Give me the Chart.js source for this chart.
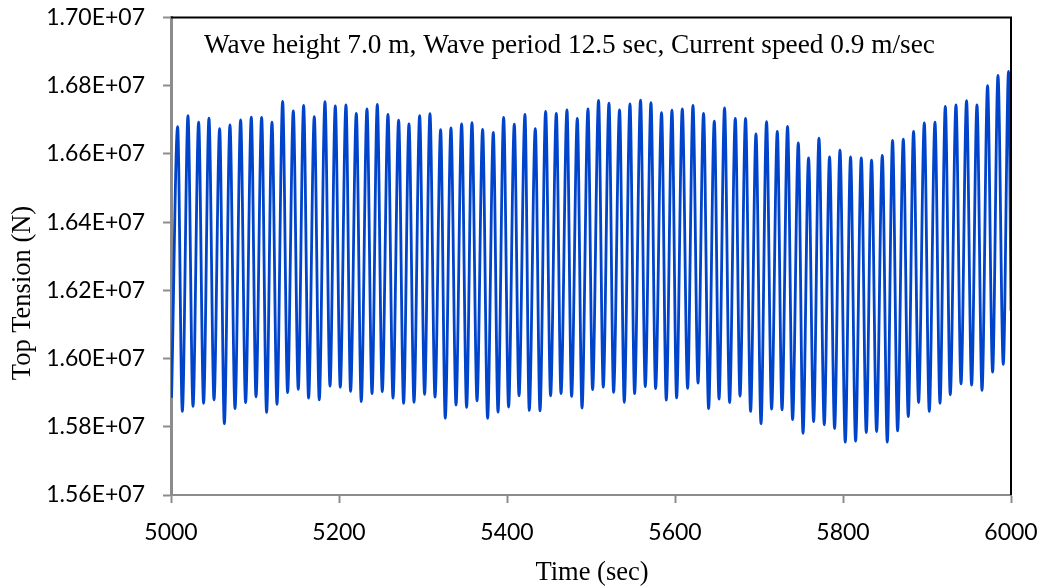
<!DOCTYPE html>
<html>
<head>
<meta charset="utf-8">
<script src="https://cdn.jsdelivr.net/npm/chart.js@4.4.0/dist/chart.umd.min.js"></script>
<style>
  html, body { margin: 0; padding: 0; background: #ffffff; }
  #wrap { width: 1050px; height: 588px; position: relative; }
</style>
</head>
<body>
<div id="wrap"><canvas id="c" width="1050" height="588"></canvas></div>
<script>
// Top tension time history: wave crests (peaks) and troughs of the riser top tension.
const peakTimes = [
  5007.9, 5020.2, 5032.9, 5045.2, 5057.9, 5070.2, 5082.9, 5095.6, 5107.9, 5120.2,
  5132.9, 5145.6, 5157.9, 5170.6, 5183.3, 5195.6, 5208.3, 5220.6, 5233.3, 5245.6,
  5258.3, 5271.0, 5283.3, 5296.0, 5308.3, 5321.0, 5333.3, 5346.0, 5358.3, 5371.0,
  5383.7, 5396.0, 5408.7, 5421.4, 5433.7, 5446.0, 5458.7, 5471.4, 5483.7, 5496.4,
  5509.0, 5521.4, 5534.0, 5546.4, 5559.0, 5571.4, 5584.0, 5596.4, 5608.7, 5621.4,
  5634.0, 5646.8, 5659.0, 5671.8, 5684.0, 5696.4, 5709.0, 5721.8, 5734.0, 5746.8,
  5759.0, 5771.4, 5784.0, 5796.4, 5809.0, 5821.8, 5834.0, 5846.8, 5859.0, 5871.8,
  5884.0, 5896.8, 5909.5, 5921.8, 5934.5, 5947.1, 5959.5, 5972.1, 5984.5, 5997.1
];
const peakValues = [
  16.680e6, 16.712e6, 16.693e6, 16.705e6, 16.674e6, 16.685e6, 16.700e6, 16.708e6, 16.707e6, 16.693e6,
  16.754e6, 16.726e6, 16.742e6, 16.709e6, 16.753e6, 16.741e6, 16.744e6, 16.719e6, 16.732e6, 16.745e6,
  16.716e6, 16.699e6, 16.688e6, 16.712e6, 16.718e6, 16.671e6, 16.676e6, 16.688e6, 16.692e6, 16.672e6,
  16.663e6, 16.707e6, 16.687e6, 16.716e6, 16.674e6, 16.725e6, 16.719e6, 16.729e6, 16.704e6, 16.732e6,
  16.757e6, 16.749e6, 16.729e6, 16.747e6, 16.758e6, 16.750e6, 16.721e6, 16.728e6, 16.732e6, 16.742e6,
  16.719e6, 16.696e6, 16.735e6, 16.704e6, 16.704e6, 16.659e6, 16.695e6, 16.666e6, 16.681e6, 16.632e6,
  16.588e6, 16.646e6, 16.591e6, 16.611e6, 16.591e6, 16.588e6, 16.582e6, 16.596e6, 16.640e6, 16.643e6,
  16.666e6, 16.691e6, 16.693e6, 16.739e6, 16.744e6, 16.756e6, 16.744e6, 16.800e6, 16.830e6, 16.842e6
];
const troughTimes = [
  5000.7, 5013.5, 5026.2, 5038.8, 5051.2, 5063.5, 5076.2, 5088.8, 5101.2, 5113.8,
  5126.2, 5138.8, 5151.5, 5163.8, 5176.5, 5189.3, 5201.5, 5213.8, 5226.5, 5239.3,
  5251.5, 5264.3, 5276.9, 5289.3, 5301.9, 5314.3, 5326.5, 5339.3, 5351.9, 5364.3,
  5376.9, 5389.3, 5401.9, 5414.3, 5426.5, 5439.3, 5451.9, 5464.3, 5476.9, 5489.3,
  5501.9, 5514.6, 5526.9, 5539.6, 5551.9, 5564.6, 5576.9, 5589.6, 5601.9, 5615.0,
  5627.4, 5640.0, 5652.4, 5665.0, 5677.4, 5690.0, 5702.4, 5715.0, 5727.4, 5740.0,
  5752.4, 5765.0, 5777.7, 5790.0, 5802.7, 5815.0, 5827.7, 5840.0, 5852.7, 5865.0,
  5877.7, 5890.0, 5902.7, 5915.5, 5927.7, 5940.5, 5953.1, 5965.5, 5978.1, 5990.8
];
const troughValues = [
  15.885e6, 15.845e6, 15.860e6, 15.869e6, 15.879e6, 15.809e6, 15.853e6, 15.871e6, 15.888e6, 15.842e6,
  15.866e6, 15.900e6, 15.910e6, 15.884e6, 15.879e6, 15.919e6, 15.916e6, 15.904e6, 15.874e6, 15.897e6,
  15.903e6, 15.884e6, 15.869e6, 15.872e6, 15.895e6, 15.887e6, 15.825e6, 15.864e6, 15.857e6, 15.876e6,
  15.825e6, 15.843e6, 15.858e6, 15.891e6, 15.848e6, 15.847e6, 15.891e6, 15.897e6, 15.889e6, 15.855e6,
  15.909e6, 15.916e6, 15.901e6, 15.872e6, 15.897e6, 15.918e6, 15.912e6, 15.878e6, 15.885e6, 15.913e6,
  15.928e6, 15.853e6, 15.881e6, 15.871e6, 15.890e6, 15.845e6, 15.809e6, 15.852e6, 15.850e6, 15.821e6,
  15.781e6, 15.815e6, 15.806e6, 15.795e6, 15.755e6, 15.758e6, 15.783e6, 15.786e6, 15.755e6, 15.788e6,
  15.830e6, 15.871e6, 15.845e6, 15.869e6, 15.894e6, 15.926e6, 15.922e6, 15.907e6, 15.960e6, 15.983e6
];
// last sample of the record
const endTime = 6000;
const endValue = 16.140e6;

const xTickValues = [5000, 5200, 5400, 5600, 5800, 6000];
const yTickValues = [15.6e6, 15.8e6, 16.0e6, 16.2e6, 16.4e6, 16.6e6, 16.8e6, 17.0e6];

const noteText = 'Wave height 7.0 m, Wave period 12.5 sec, Current speed 0.9 m/sec';
const xTitle = 'Time (sec)';
const yTitle = 'Top Tension (N)';

// interleave troughs and peaks into one time series
const series = [];
for (let i = 0; i < troughTimes.length; i++) {
  series.push({ x: troughTimes[i], y: troughValues[i] });
  if (i < peakTimes.length) series.push({ x: peakTimes[i], y: peakValues[i] });
}
series.push({ x: endTime, y: endValue });

const fmtSci = v => (v / 1e7).toFixed(2) + 'E+07';

const decor = {
  id: 'decor',
  afterDraw(chart) {
    const { ctx, chartArea: a } = chart;
    ctx.save();
    // dark frame on the top and right sides of the plot
    ctx.strokeStyle = '#000';
    ctx.lineWidth = 2;
    ctx.beginPath();
    ctx.moveTo(a.left, a.top);
    ctx.lineTo(a.right, a.top);
    ctx.lineTo(a.right, a.bottom);
    ctx.stroke();

    ctx.fillStyle = '#000';
    ctx.textBaseline = 'alphabetic';
    ctx.textAlign = 'left';
    ctx.font = '27.3px "Liberation Serif", "Times New Roman", serif';
    ctx.fillText(noteText, 204, 53);

    ctx.font = '26.5px "Liberation Serif", "Times New Roman", serif';
    ctx.textAlign = 'center';
    ctx.fillText(xTitle, 592, 580);

    ctx.translate(30, 293);
    ctx.rotate(-Math.PI / 2);
    ctx.fillText(yTitle, 0, 0);
    ctx.restore();
  }
};

const tickFont = { family: 'Lato, "Open Sans", sans-serif', size: 23 };

new Chart(document.getElementById('c'), {
  type: 'line',
  data: {
    datasets: [{
      data: series,
      borderColor: 'rgb(0, 68, 204)',
      borderWidth: 2.8,
      pointRadius: 0,
      fill: false,
      cubicInterpolationMode: 'monotone'
    }]
  },
  options: {
    responsive: false,
    animation: false,
    devicePixelRatio: 1,
    parsing: false,
    layout: { padding: { left: 0, top: 17.5, right: 39, bottom: 0 } },
    plugins: { legend: { display: false }, tooltip: { enabled: false } },
    scales: {
      x: {
        type: 'linear',
        min: 5000,
        max: 6000,
        afterBuildTicks: s => { s.ticks = xTickValues.map(v => ({ value: v })); },
        afterFit: s => { s.height = 93; s.paddingLeft = 0; s.paddingRight = 0; },
        grid: { drawOnChartArea: false, drawTicks: true, tickLength: 8, tickColor: '#8c8c8c', tickWidth: 2 },
        border: { display: true, color: '#8c8c8c', width: 2 },
        ticks: { font: tickFont, color: '#000', padding: 16, maxRotation: 0, callback: v => String(v) }
      },
      y: {
        type: 'linear',
        min: 15.6e6,
        max: 17.0e6,
        afterBuildTicks: s => { s.ticks = yTickValues.map(v => ({ value: v })); },
        afterFit: s => { s.width = 171; s.paddingTop = 0; s.paddingBottom = 0; },
        grid: { drawOnChartArea: false, drawTicks: true, tickLength: 8, tickColor: '#8c8c8c', tickWidth: 2 },
        border: { display: true, color: '#8c8c8c', width: 3 },
        ticks: { font: tickFont, color: '#000', padding: 18, callback: v => fmtSci(v) }
      }
    }
  },
  plugins: [decor]
});
</script>
</body>
</html>
